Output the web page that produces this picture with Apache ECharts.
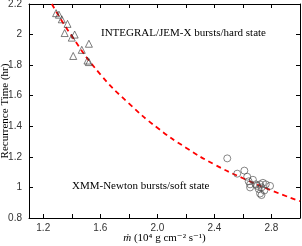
<!DOCTYPE html>
<html><head><meta charset="utf-8">
<script src="https://cdn.jsdelivr.net/npm/echarts@6/dist/echarts.min.js"></script>
<style>html,body{margin:0;padding:0;background:#fff}#c{width:302px;height:246px}</style>
</head><body><div id="c"></div>
<script>
// INTEGRAL/JEM-X bursts (hard state)
const integralMdot = [1.29, 1.31, 1.33, 1.37, 1.35, 1.42, 1.40, 1.52, 1.47, 1.41, 1.51, 1.52];
const integralTrec = [2.14, 2.13, 2.10, 2.07, 2.01, 2.00, 1.98, 1.94, 1.90, 1.86, 1.83, 1.82];
// XMM-Newton bursts (soft state)
const xmmMdot = [2.49, 2.56, 2.61, 2.63, 2.67, 2.64, 2.65, 2.69, 2.72, 2.76, 2.79, 2.73, 2.71, 2.72, 2.75, 2.73, 2.70, 2.65, 2.74];
const xmmTrec = [1.19, 1.09, 1.11, 1.07, 1.05, 1.04, 1.00, 1.02, 1.02, 1.02, 1.01, 1.00, 0.99, 0.96, 0.98, 0.95, 1.01, 1.02, 1.03];
// dashed model curve
const fitMdot = [1.26, 1.4, 1.6, 1.8, 2.0, 2.2, 2.4, 2.6, 2.8, 3.0];
const fitTrec = [2.20, 1.99, 1.74, 1.55, 1.39, 1.26, 1.15, 1.06, 0.98, 0.91];
// ticks
const xTickValues = [1.2, 1.4, 1.6, 1.8, 2.0, 2.2, 2.4, 2.6, 2.8, 3.0];
const xTickLabels = [1.2, 1.6, 2.0, 2.4, 2.8];
const yTickLabels = ['0.8', '1', '1.2', '1.4', '1.6', '1.8', '2', '2.2'];

const zip = (a, b) => a.map((v, i) => [v, b[i]]);
const serif = '"Liberation Serif", "DejaVu Serif", serif';
const sans = '"Liberation Sans", Arial, sans-serif';

const chart = echarts.init(document.getElementById('c'), null, {renderer: 'canvas'});
const axLine = {show: true, lineStyle: {color: '#000', width: 1}};
const xBase = {type: 'value', min: 1.1, max: 3.0, splitLine: {show: false}, axisLine: axLine};
const yBase = {type: 'value', min: 0.8, max: 2.2, interval: 0.2, splitLine: {show: false}, axisLine: axLine};
chart.setOption({
  animation: false,
  grid: {left: 29, right: 2, top: 4, bottom: 28, containLabel: false, outerBoundsMode: 'none'},
  xAxis: [
    Object.assign({}, xBase, {
      position: 'bottom',
      axisTick: {inside: true, length: 4, customValues: xTickValues, lineStyle: {color: '#000'}},
      axisLabel: {customValues: xTickLabels, formatter: v => Number(v).toFixed(1), fontFamily: sans, fontSize: 10, color: '#333', margin: 5},
      name: '{i|ṁ} (10⁴ g cm⁻² s⁻¹)',
      nameLocation: 'middle', nameGap: 15, nameMoveOverlap: false,
      nameTextStyle: {fontFamily: serif, fontSize: 11, color: '#000', rich: {i: {fontStyle: 'italic', fontFamily: serif, fontSize: 11}}}
    }),
    Object.assign({}, xBase, {
      position: 'top',
      axisTick: {inside: true, length: 4, customValues: xTickValues, lineStyle: {color: '#000'}},
      axisLabel: {show: false}
    })
  ],
  yAxis: [
    Object.assign({}, yBase, {
      position: 'left',
      axisTick: {inside: true, length: 4, lineStyle: {color: '#000'}},
      axisLabel: {formatter: (v) => yTickLabels.find(t => Math.abs(Number(t) - v) < 1e-6) || '', fontFamily: sans, fontSize: 10, color: '#333', margin: 7},
      name: 'Recurrence Time (hr)',
      nameLocation: 'middle', nameGap: 18, nameMoveOverlap: false,
      nameTextStyle: {fontFamily: serif, fontSize: 11, color: '#000'}
    }),
    Object.assign({}, yBase, {
      position: 'right',
      axisTick: {inside: true, length: 4, lineStyle: {color: '#000'}},
      axisLabel: {show: false}
    })
  ],
  series: [
    {
      type: 'line', data: zip(fitMdot, fitTrec), smooth: true, showSymbol: false, symbol: 'none',
      lineStyle: {color: '#ff0000', width: 1.8, type: [5, 4]}, z: 3
    },
    {
      type: 'scatter', data: zip(integralMdot, integralTrec), symbol: 'triangle', symbolSize: 7,
      itemStyle: {color: 'rgba(0,0,0,0)', borderColor: '#333', borderWidth: 0.8}, z: 4
    },
    {
      type: 'scatter', data: zip(xmmMdot, xmmTrec), symbol: 'circle', symbolSize: 7,
      itemStyle: {color: 'rgba(0,0,0,0)', borderColor: '#444', borderWidth: 0.8}, z: 4
    }
  ],
  graphic: [
    {type: 'text', left: 101, top: 28, style: {text: 'INTEGRAL/JEM-X bursts/hard state', font: '11px ' + serif, fill: '#000'}},
    {type: 'text', left: 72, top: 181, style: {text: 'XMM-Newton bursts/soft state', font: '11px ' + serif, fill: '#000'}}
  ]
});
</script>
</body></html>
